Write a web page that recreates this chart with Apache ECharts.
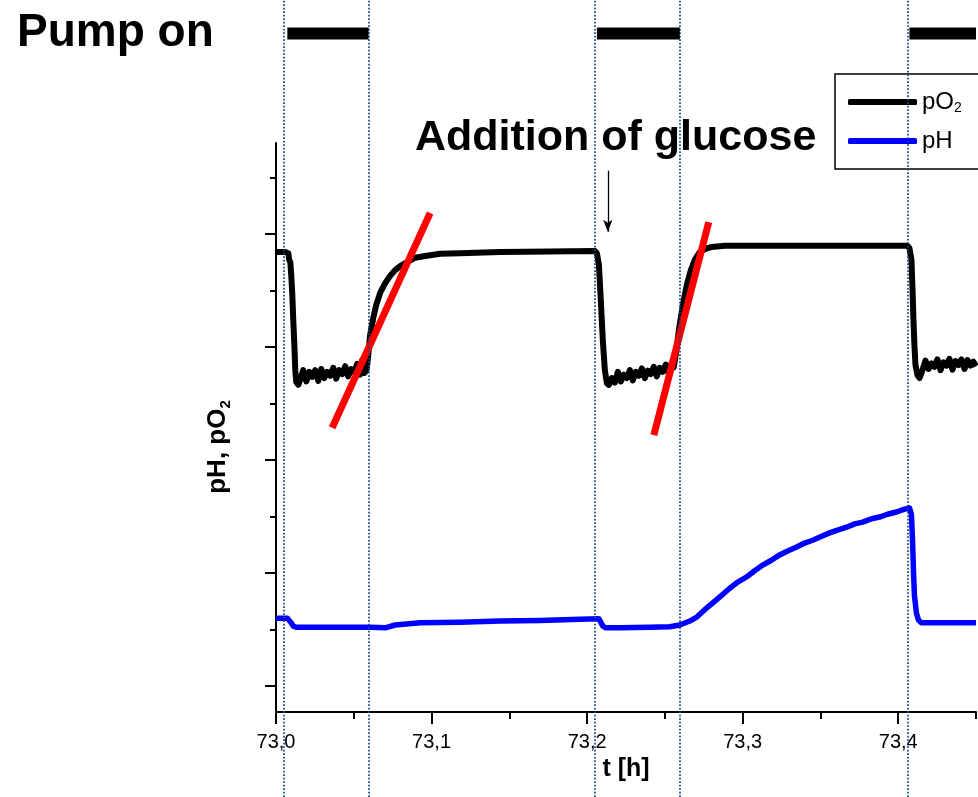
<!DOCTYPE html>
<html><head><meta charset="utf-8">
<script src="https://cdn.jsdelivr.net/npm/echarts@6/dist/echarts.min.js"></script>
<style>html,body{margin:0;padding:0;background:#fff}#c{width:978px;height:797px}</style>
</head><body><div id="c"></div>
<script>
const FONT = '"Liberation Sans", Arial, sans-serif';

// axis ticks (time in h, signal in arbitrary units)
const xMajorTicks = [73.0, 73.1, 73.2, 73.3, 73.4];
const xMinorTicks = [73.05, 73.15, 73.25, 73.35, 73.45];
const yMajorTicks = [0, 2, 4, 6, 8];
const yMinorTicks = [1, 3, 5, 7, 9];

// pO2 trace
const po2Time = [
  73.0000, 73.0060, 73.0079, 73.0085, 73.0092, 73.0098, 73.0105, 73.0111, 73.0118, 73.0124, 73.0130, 73.0143,
  73.0156, 73.0175, 73.0195, 73.0214, 73.0233, 73.0252, 73.0272, 73.0291, 73.0310, 73.0329, 73.0349, 73.0368,
  73.0387, 73.0406, 73.0426, 73.0445, 73.0464, 73.0483, 73.0503, 73.0522, 73.0541, 73.0554, 73.0567, 73.0580, 73.0586,
  73.0593, 73.0605, 73.0625, 73.0644, 73.0670, 73.0702, 73.0734, 73.0766, 73.0798, 73.0843, 73.0894, 73.0959,
  73.1055, 73.1183, 73.1440, 73.1761, 73.2050,
  73.2063, 73.2076, 73.2088, 73.2101, 73.2114, 73.2127, 73.2140,
  73.2159, 73.2178, 73.2198, 73.2217, 73.2236, 73.2255, 73.2275, 73.2294, 73.2313, 73.2332, 73.2352, 73.2371,
  73.2390, 73.2409, 73.2429, 73.2448, 73.2467, 73.2486, 73.2506, 73.2525, 73.2544, 73.2557,
  73.2570, 73.2590, 73.2615, 73.2641, 73.2667, 73.2692, 73.2724, 73.2756, 73.2801, 73.2885, 73.3366, 73.3880, 73.4060,
  73.4072, 73.4085, 73.4092, 73.4098, 73.4104, 73.4111, 73.4124, 73.4137,
  73.4156, 73.4175, 73.4195, 73.4214, 73.4233, 73.4252, 73.4272, 73.4291, 73.4310, 73.4329, 73.4349, 73.4368,
  73.4387, 73.4406, 73.4426, 73.4445, 73.4464, 73.4483, 73.4500
];
const po2Value = [
  7.68, 7.68, 7.66, 7.54, 7.50, 7.27, 6.92, 6.48, 6.04, 5.59, 5.38, 5.33,
  5.42, 5.59, 5.39, 5.56, 5.47, 5.59, 5.40, 5.61, 5.45, 5.56, 5.49, 5.63,
  5.44, 5.59, 5.52, 5.66, 5.48, 5.61, 5.56, 5.70, 5.51, 5.77, 5.54, 5.58, 5.67,
  5.86, 6.21, 6.51, 6.74, 6.96, 7.13, 7.26, 7.36, 7.43, 7.50, 7.58, 7.61,
  7.65, 7.66, 7.68, 7.69, 7.70,
  7.66, 7.45, 6.83, 6.12, 5.59, 5.36, 5.33,
  5.45, 5.37, 5.56, 5.39, 5.51, 5.45, 5.59, 5.41, 5.56, 5.49, 5.62, 5.45,
  5.58, 5.52, 5.65, 5.48, 5.63, 5.56, 5.69, 5.53, 5.71, 5.64,
  5.86, 6.30, 6.74, 7.10, 7.36, 7.54, 7.68, 7.73, 7.77, 7.79, 7.79, 7.79, 7.79,
  7.75, 7.54, 7.01, 6.48, 6.04, 5.68, 5.50, 5.45,
  5.59, 5.76, 5.61, 5.71, 5.65, 5.78, 5.59, 5.73, 5.67, 5.79, 5.60, 5.75,
  5.68, 5.78, 5.61, 5.77, 5.67, 5.74, 5.66
];

// pH trace
const phTime = [
  73.0000, 73.0073, 73.0085, 73.0098, 73.0111, 73.0130, 73.0220, 73.0413, 73.0605, 73.0702, 73.0766, 73.0927,
  73.1183, 73.1440, 73.1697, 73.1954, 73.2076, 73.2088, 73.2101, 73.2120, 73.2210, 73.2403, 73.2531, 73.2596,
  73.2660, 73.2705, 73.2756, 73.2808, 73.2859, 73.2917, 73.2968, 73.3026, 73.3077, 73.3129, 73.3187, 73.3238,
  73.3289, 73.3347, 73.3398, 73.3450, 73.3508, 73.3559, 73.3610, 73.3668, 73.3720, 73.3771, 73.3829, 73.3880,
  73.3931, 73.3989, 73.4041, 73.4073, 73.4085, 73.4092, 73.4098, 73.4104, 73.4117, 73.4130, 73.4149, 73.4265, 73.4500
];
const phValue = [
  1.20, 1.20, 1.19, 1.12, 1.06, 1.04, 1.04, 1.04, 1.04, 1.03, 1.08, 1.12,
  1.13, 1.15, 1.16, 1.18, 1.19, 1.13, 1.06, 1.03, 1.03, 1.04, 1.05, 1.08,
  1.15, 1.22, 1.35, 1.47, 1.59, 1.73, 1.84, 1.93, 2.04, 2.14, 2.23, 2.32,
  2.39, 2.46, 2.53, 2.58, 2.65, 2.71, 2.76, 2.81, 2.87, 2.90, 2.96, 2.99,
  3.04, 3.08, 3.13, 3.15, 3.03, 2.58, 2.05, 1.61, 1.29, 1.17, 1.12, 1.12, 1.12
];

// red tangent lines
const fit1Time = [73.0361, 73.0991];
const fit1Value = [4.57, 8.37];
const fit2Time = [73.2429, 73.2782];
const fit2Value = [4.44, 8.21];

// pump-on intervals and event markers
const pumpOnStart = [73.0073, 73.2063, 73.4072];
const pumpOnEnd = [73.0595, 73.2596, 73.4500];
const pumpRowLevel = 0.958;
const eventTimes = [73.0050, 73.0595, 73.2047, 73.2596, 73.4063];
const glucoseTime = 73.2133;
const glucoseArrow = [9.12, 8.04];

const zip = (a, b) => a.map((v, i) => [v, b[i]]);

const chart = echarts.init(document.getElementById('c'), null, { renderer: 'canvas' });

const pumpSeries = pumpOnStart.map((s, i) => ({
  type: 'line', name: 'pump' + i, xAxisIndex: 2, yAxisIndex: 2,
  data: [[s, pumpRowLevel], [pumpOnEnd[i], pumpRowLevel]],
  symbol: 'none', silent: true, z: 10,
  lineStyle: { color: '#000', width: 12, cap: 'butt' },
  markLine: i === 0 ? {
    silent: true, symbol: 'none', precision: 5, label: { show: false },
    lineStyle: { color: '#17467f', width: 1.7, type: [1.7, 1.8] },
    emphasis: { disabled: true },
    data: eventTimes.map(v => [{ coord: [v, 0] }, { coord: [v, 1] }])
  } : undefined
}));

const option = {
  animation: false,
  backgroundColor: '#fff',
  grid: [
    { left: 276, right: 2, top: 143, bottom: 85, containLabel: false },
    { left: 276, right: 2, top: 0, bottom: 0, containLabel: false }
  ],
  xAxis: [
    {
      type: 'value', gridIndex: 0, min: 73.0, max: 73.45, interval: 0.1, position: 'bottom',
      axisLine: { onZero: false, lineStyle: { color: '#000', width: 2 } },
      axisTick: { show: true, length: 12, lineStyle: { color: '#000', width: 2 }, customValues: xMajorTicks },
      axisLabel: {
        show: true, customValues: xMajorTicks, margin: 20, fontSize: 20, fontFamily: FONT, color: '#000',
        formatter: v => v.toFixed(1).replace('.', ',')
      },
      splitLine: { show: false },
      name: 't [h]', nameLocation: 'middle', nameGap: 31,
      nameTextStyle: { fontSize: 25, fontWeight: 'bold', fontFamily: FONT, color: '#000' }
    },
    {
      type: 'value', gridIndex: 0, min: 73.0, max: 73.45, interval: 0.1, position: 'bottom',
      axisLine: { show: false, onZero: false },
      axisTick: { show: true, length: 7, lineStyle: { color: '#000', width: 2 }, customValues: xMinorTicks },
      axisLabel: { show: false }, splitLine: { show: false }
    },
    { type: 'value', gridIndex: 1, min: 73.0, max: 73.45, show: false }
  ],
  yAxis: [
    {
      type: 'value', gridIndex: 0, min: -0.46, max: 9.61, position: 'left',
      axisLine: { show: true, onZero: false, lineStyle: { color: '#000', width: 2 } },
      axisTick: { show: true, length: 11, lineStyle: { color: '#000', width: 2 }, customValues: yMajorTicks },
      axisLabel: { show: false }, splitLine: { show: false }
    },
    {
      type: 'value', gridIndex: 0, min: -0.46, max: 9.61, position: 'left',
      axisLine: { show: false, onZero: false },
      axisTick: { show: true, length: 6, lineStyle: { color: '#000', width: 2 }, customValues: yMinorTicks },
      axisLabel: { show: false }, splitLine: { show: false }
    },
    { type: 'value', gridIndex: 1, min: 0, max: 1, show: false }
  ],
  legend: {
    orient: 'vertical', left: 835, top: 74,
    padding: [15, 40, 15, 13], itemGap: 13,
    itemWidth: 69, itemHeight: 6, icon: 'roundRect',
    borderColor: '#000', borderWidth: 1.5,
    data: ['pO2', 'pH'],
    formatter: n => n === 'pO2' ? '{a|pO}{s|2}' : '{a|pH}',
    textStyle: {
      lineHeight: 26,
      rich: {
        a: { fontSize: 24, fontFamily: FONT, color: '#000', lineHeight: 26 },
        s: { fontSize: 14, fontFamily: FONT, color: '#000', verticalAlign: 'bottom', lineHeight: 26 }
      }
    }
  },
  graphic: [
    { type: 'text', x: 17, y: 33, style: { text: 'Pump on', font: 'bold 46px ' + FONT, fill: '#000', align: 'left', verticalAlign: 'middle' } },
    { type: 'text', x: 415, y: 138, style: { text: 'Addition of glucose', font: 'bold 43px ' + FONT, fill: '#000', align: 'left', verticalAlign: 'middle' } },
    {
      type: 'text', x: 218, y: 447, rotation: Math.PI / 2,
      style: {
        text: '{a|pH, pO}{s|2}', align: 'center', verticalAlign: 'middle',
        rich: {
          a: { fontSize: 26, fontWeight: 'bold', fontFamily: FONT, fill: '#000', lineHeight: 30 },
          s: { fontSize: 15, fontWeight: 'bold', fontFamily: FONT, fill: '#000', verticalAlign: 'bottom', lineHeight: 30 }
        }
      }
    }
  ],
  series: [
    {
      type: 'line', name: 'pO2', xAxisIndex: 0, yAxisIndex: 0, data: zip(po2Time, po2Value),
      symbol: 'none', color: '#000', z: 3,
      lineStyle: { color: '#000', width: 6, join: 'round' },
      markLine: {
        silent: true, symbol: ['none', 'arrow'], symbolSize: [7, 12], precision: 5, label: { show: false },
        lineStyle: { color: '#000', width: 1.3, type: 'solid' },
        emphasis: { disabled: true },
        data: [[{ coord: [glucoseTime, glucoseArrow[0]] }, { coord: [glucoseTime, glucoseArrow[1]] }]]
      }
    },
    {
      type: 'line', name: 'pH', xAxisIndex: 0, yAxisIndex: 0, data: zip(phTime, phValue),
      symbol: 'none', color: '#0000ff', z: 3,
      lineStyle: { color: '#0000ff', width: 5.5, join: 'round' }
    },
    {
      type: 'line', name: 'fit1', xAxisIndex: 0, yAxisIndex: 0, data: zip(fit1Time, fit1Value),
      symbol: 'none', color: '#ff0000', z: 4, silent: true,
      lineStyle: { color: '#ff0000', width: 7, cap: 'butt' }
    },
    {
      type: 'line', name: 'fit2', xAxisIndex: 0, yAxisIndex: 0, data: zip(fit2Time, fit2Value),
      symbol: 'none', color: '#ff0000', z: 4, silent: true,
      lineStyle: { color: '#ff0000', width: 7, cap: 'butt' }
    },
    ...pumpSeries
  ]
};
chart.setOption(option);
</script>
</body></html>
